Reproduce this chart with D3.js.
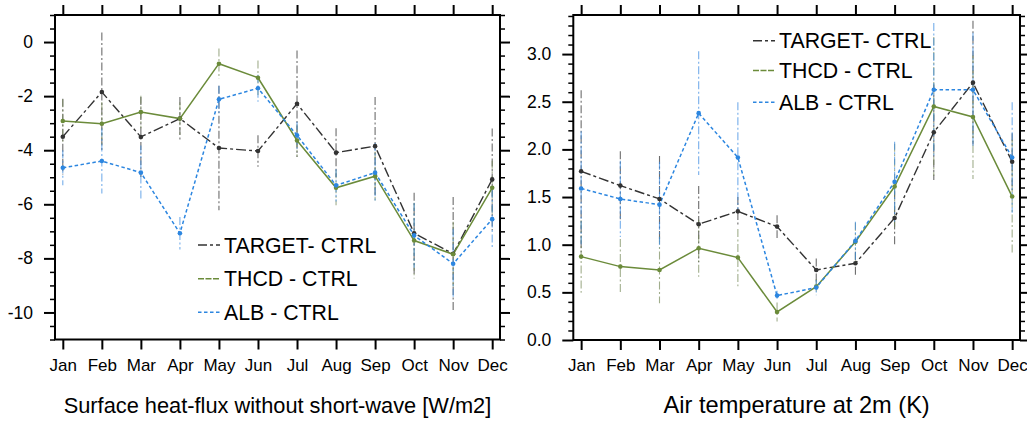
<!DOCTYPE html>
<html>
<head>
<meta charset="utf-8">
<script src="https://cdn.jsdelivr.net/npm/d3@7"></script>
<style>
  html, body { margin: 0; padding: 0; background: #fff; }
  svg { display: block; }
  text { font-family: "Liberation Sans", Arial, Helvetica, sans-serif; fill: #000; }
</style>
</head>
<body>
<svg id="chart" width="1027" height="421"></svg>
<script>
// ---------------- data ----------------
const months = ["Jan","Feb","Mar","Apr","May","Jun","Jul","Aug","Sep","Oct","Nov","Dec"];
const seriesNames = ["TARGET- CTRL", "THCD - CTRL", "ALB - CTRL"];

// Left panel: Surface heat-flux without short-wave [W/m2]
const fluxTarget = [-3.50, -1.85, -3.51, -2.83, -3.92, -4.03, -2.28, -4.09, -3.85, -7.07, -7.83, -5.08];
const fluxThcd   = [-2.92, -3.02, -2.59, -2.83, -0.80, -1.32, -3.64, -5.39, -4.96, -7.34, -7.85, -5.39];
const fluxAlb    = [-4.65, -4.40, -4.83, -7.07, -2.12, -1.71, -3.45, -5.30, -4.83, -7.15, -8.20, -6.55];
const fluxTargetErr = [1.40, 2.20, 1.48, 0.80, 2.30, 0.58, 1.97, 0.90, 1.82, 1.50, 2.10, 1.88];
const fluxThcdErr   = [0.80, 0.80, 0.60, 0.60, 0.56, 0.64, 0.60, 0.65, 0.90, 1.40, 1.20, 1.00];
const fluxAlbErr    = [0.65, 1.20, 1.00, 0.60, 0.50, 0.50, 0.50, 0.60, 1.10, 1.20, 1.30, 1.10];
const fluxTicks = [-10, -8, -6, -4, -2, 0];
const fluxTickLabels = ["-10", "-8", "-6", "-4", "-2", "0"];
const fluxTitle = "Surface heat-flux without short-wave [W/m2]";

// Right panel: Air temperature at 2m (K)
const t2mTarget = [1.77, 1.62, 1.48, 1.215, 1.35, 1.19, 0.735, 0.805, 1.28, 2.18, 2.70, 1.87];
const t2mThcd   = [0.875, 0.77, 0.735, 0.963, 0.865, 0.294, 0.56, 1.03, 1.61, 2.45, 2.34, 1.505];
const t2mAlb    = [1.59, 1.48, 1.42, 2.38, 1.915, 0.466, 0.55, 1.04, 1.66, 2.625, 2.625, 1.915];
const t2mTargetErr = [0.85, 0.36, 0.45, 0.40, 0.15, 0.12, 0.12, 0.12, 0.28, 0.50, 0.65, 0.30];
const t2mThcdErr   = [0.38, 0.29, 0.35, 0.30, 0.30, 0.10, 0.08, 0.20, 0.45, 0.73, 0.65, 0.60];
const t2mAlbErr    = [0.60, 0.40, 0.45, 0.65, 0.58, 0.05, 0.08, 0.20, 0.42, 0.70, 0.60, 0.58];
const t2mTicks = [0.0, 0.5, 1.0, 1.5, 2.0, 2.5, 3.0];
const t2mTickLabels = ["0.0", "0.5", "1.0", "1.5", "2.0", "2.5", "3.0"];
const t2mTitle = "Air temperature at 2m (K)";

// ---------------- styles ----------------
const styles = [
  { color: "#333333", err: "rgba(60,60,60,0.75)", dash: "10,3,3,3", width: 1.4, legendDash: "9,3,3,3" },
  { color: "#6b8b3a", err: "rgba(110,130,80,0.65)", dash: null, width: 1.5, legendDash: "6,1.5" },
  { color: "#2c86e0", err: "rgba(60,140,225,0.7)", dash: "3.5,2.5", width: 1.5, legendDash: "3.5,2.5" }
];

const svg = d3.select("#chart");

function panel(cfg) {
  const g = svg.append("g");
  const x = d3.scaleLinear().domain([-0.2, 11.2]).range([cfg.x0, cfg.x1]);
  const y = d3.scaleLinear().domain(cfg.yDomain).range([cfg.y1, cfg.y0]);

  // error bars
  cfg.series.forEach((s, si) => {
    const st = styles[si];
    g.append("g").selectAll("line").data(s.values).join("line")
      .attr("x1", (d, i) => x(i)).attr("x2", (d, i) => x(i))
      .attr("y1", (d, i) => y(d + s.err[i]))
      .attr("y2", (d, i) => y(d - s.err[i]))
      .attr("stroke", st.err).attr("stroke-width", 1.1)
      .attr("stroke-dasharray", "8,2.5,2,2.5");
  });

  // lines
  const line = d3.line().x((d, i) => x(i)).y(d => y(d));
  cfg.series.forEach((s, si) => {
    const st = styles[si];
    g.append("path").datum(s.values)
      .attr("d", line).attr("fill", "none")
      .attr("stroke", st.color).attr("stroke-width", st.width)
      .attr("stroke-dasharray", st.dash);
  });
  // markers
  cfg.series.forEach((s, si) => {
    const st = styles[si];
    g.append("g").selectAll("circle").data(s.values).join("circle")
      .attr("cx", (d, i) => x(i)).attr("cy", d => y(d)).attr("r", 2.3)
      .attr("fill", st.color);
  });

  // frame
  g.append("rect").attr("x", cfg.x0).attr("y", cfg.y0)
    .attr("width", cfg.x1 - cfg.x0).attr("height", cfg.y1 - cfg.y0)
    .attr("fill", "none").attr("stroke", "#000").attr("stroke-width", 2);

  // x axes (bottom with labels, top ticks only)
  const xb = d3.axisBottom(x).tickValues(d3.range(12)).tickSize(10).tickFormat(i => months[i]).tickPadding(9);
  const gxb = g.append("g").attr("transform", `translate(0,${cfg.y1})`).call(xb);
  gxb.select(".domain").remove();
  gxb.selectAll("line").attr("stroke", "#000").attr("stroke-width", 2);
  gxb.selectAll("text").attr("font-size", 17).attr("font-family", "Liberation Sans, Arial, sans-serif").attr("fill", "#000");

  const xt = d3.axisTop(x).tickValues(d3.range(12)).tickSize(10).tickFormat("");
  const gxt = g.append("g").attr("transform", `translate(0,${cfg.y0})`).call(xt);
  gxt.select(".domain").remove();
  gxt.selectAll("line").attr("stroke", "#000").attr("stroke-width", 2);

  // y minor ticks
  const minor = d3.range(cfg.yDomain[0], cfg.yDomain[1] + 1e-9, cfg.minorStep)
    .map(v => Math.round(v * 1000) / 1000)
    .filter(v => !cfg.yTicks.some(t => Math.abs(t - v) < 1e-6));
  const yl = d3.axisLeft(y).tickValues(minor).tickSize(5).tickFormat("");
  const gyl = g.append("g").attr("transform", `translate(${cfg.x0},0)`).call(yl);
  gyl.select(".domain").remove();
  gyl.selectAll("line").attr("stroke", "#000").attr("stroke-width", 1.5);
  const yr = d3.axisRight(y).tickValues(minor).tickSize(5).tickFormat("");
  const gyr = g.append("g").attr("transform", `translate(${cfg.x1},0)`).call(yr);
  gyr.select(".domain").remove();
  gyr.selectAll("line").attr("stroke", "#000").attr("stroke-width", 1.5);

  // y major ticks
  const yL = d3.axisLeft(y).tickValues(cfg.yTicks).tickSize(11).tickPadding(11)
    .tickFormat((d, i) => cfg.yTickLabels[i]);
  const gyL = g.append("g").attr("transform", `translate(${cfg.x0},0)`).call(yL);
  gyL.select(".domain").remove();
  gyL.selectAll("line").attr("stroke", "#000").attr("stroke-width", 2);
  gyL.selectAll("text").attr("font-size", 17.5).attr("font-family", "Liberation Sans, Arial, sans-serif").attr("fill", "#000");
  const yR = d3.axisRight(y).tickValues(cfg.yTicks).tickSize(10).tickFormat("");
  const gyR = g.append("g").attr("transform", `translate(${cfg.x1},0)`).call(yR);
  gyR.select(".domain").remove();
  gyR.selectAll("line").attr("stroke", "#000").attr("stroke-width", 2);

  // title
  g.append("text").attr("x", (cfg.x0 + cfg.x1) / 2).attr("y", 413)
    .attr("text-anchor", "middle").attr("font-size", cfg.titleSize).text(cfg.title);

  // legend
  seriesNames.forEach((name, si) => {
    const st = styles[si];
    const ly = cfg.legend.rows[si];
    g.append("line").attr("x1", cfg.legend.x).attr("x2", cfg.legend.x + 22)
      .attr("y1", ly).attr("y2", ly).attr("stroke", st.color).attr("stroke-width", 1.5)
      .attr("stroke-dasharray", st.legendDash);
    g.append("text").attr("x", cfg.legend.x + 26).attr("y", ly + 7.5)
      .attr("font-size", 21.3).text(name);
  });
}

panel({
  x0: 55, x1: 500, y0: 15, y1: 339.5,
  yDomain: [-11, 1], yTicks: fluxTicks, yTickLabels: fluxTickLabels, minorStep: 0.5,
  series: [
    { values: fluxTarget, err: fluxTargetErr },
    { values: fluxThcd, err: fluxThcdErr },
    { values: fluxAlb, err: fluxAlbErr }
  ],
  title: fluxTitle, titleSize: 21.8,
  legend: { x: 198, rows: [245, 278.7, 312.3] }
});

panel({
  x0: 573.3, x1: 1020, y0: 15, y1: 340,
  yDomain: [0, 3.41], yTicks: t2mTicks, yTickLabels: t2mTickLabels, minorStep: 0.1,
  series: [
    { values: t2mTarget, err: t2mTargetErr },
    { values: t2mThcd, err: t2mThcdErr },
    { values: t2mAlb, err: t2mAlbErr }
  ],
  title: t2mTitle, titleSize: 23.6,
  legend: { x: 753, rows: [40.8, 70.5, 102.3] }
});
</script>
</body>
</html>
